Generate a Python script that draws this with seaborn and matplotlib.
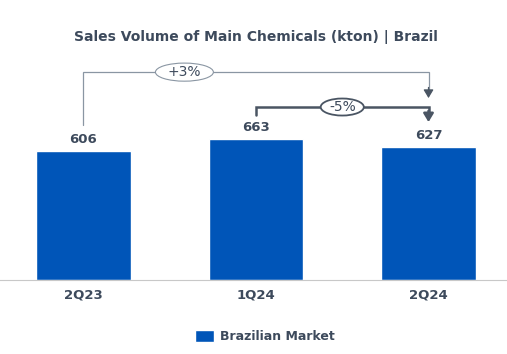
import pandas as pd
import seaborn as sns
import matplotlib.pyplot as plt
from matplotlib.patches import Patch, Ellipse

periods = ['2Q23', '1Q24', '2Q24']
volumes = [606, 663, 627]
series = ['Brazilian Market'] * 3
change_yoy = '+3%'
change_qoq = '-5%'

bar_color = '#0055b8'
text_color = '#3d4a5c'

df = pd.DataFrame({'period': periods, 'volume': volumes, 'series': series})

sns.set_style('white')
plt.rcParams['font.family'] = ['DejaVu Sans']

fig = plt.figure(figsize=(5.07, 3.54), dpi=100)
ax = fig.add_axes([0, 0.209, 1, 0.678])

sns.barplot(data=df, x='period', y='volume', hue='series', palette=[bar_color],
            width=0.55, saturation=1, legend=False, ax=ax)

ax.set_xlim(-0.484, 2.455)
ax.set_ylim(0, 1128)
for s in ['top', 'left', 'right']:
    ax.spines[s].set_visible(False)
ax.spines['bottom'].set_color('#c8c8c8')
ax.set_yticks([])
ax.set_xlabel('')
ax.set_ylabel('')
ax.tick_params(axis='x', length=0, pad=6)
for lab in ax.get_xticklabels():
    lab.set_fontweight('bold')
    lab.set_fontsize(9.5)
    lab.set_color(text_color)

# value labels
for i, v in enumerate(volumes):
    ax.text(i, v + 22, str(v), ha='center', va='bottom', fontsize=9.5,
            fontweight='bold', color=text_color)

# +3% bracket (2Q23 -> 2Q24)
ax.plot([0, 0, 2, 2], [728, 977, 977, 900], color='#8a96a3', lw=0.9, solid_joinstyle='miter')
ax.annotate('', xy=(2, 855), xytext=(2, 905),
            arrowprops=dict(arrowstyle='-|>,head_length=0.5,head_width=0.3',
                            color='#4a5563', lw=0.9, shrinkA=0, shrinkB=0))
ax.add_patch(Ellipse((0.585, 977), 0.336, 85, fc='white', ec='#8a96a3', lw=0.8, zorder=3))
ax.text(0.585, 977, change_yoy, ha='center', va='center', fontsize=10, color=text_color, zorder=4)

# -5% bracket (1Q24 -> 2Q24)
ax.plot([1, 1, 2, 2], [775, 813, 813, 790], color='#4a5563', lw=1.8, solid_joinstyle='miter')
ax.annotate('', xy=(2, 742), xytext=(2, 795),
            arrowprops=dict(arrowstyle='-|>,head_length=0.5,head_width=0.3',
                            color='#4a5563', lw=1.8, shrinkA=0, shrinkB=0))
ax.add_patch(Ellipse((1.5, 813), 0.25, 80, fc='white', ec='#4a5563', lw=1.3, zorder=3))
ax.text(1.5, 813, change_qoq, ha='center', va='center', fontsize=10, color=text_color, zorder=4)

fig.text(0.505, 0.895, 'Sales Volume of Main Chemicals (kton) | Brazil', ha='center',
         va='center', fontsize=10, fontweight='bold', color=text_color)

handles = [Patch(facecolor=bar_color, label=series[0])]
leg = fig.legend(handles=handles, loc='center', bbox_to_anchor=(0.523, 0.05), frameon=False,
                 handlelength=1.5, handleheight=1.1, handletextpad=0.5,
                 prop={'weight': 'bold', 'size': 9})
for t in leg.get_texts():
    t.set_color(text_color)

fig.savefig('out.png', dpi=100)
